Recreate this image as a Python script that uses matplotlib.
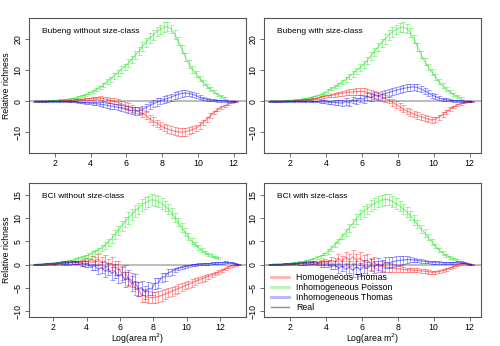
import numpy as np
import matplotlib
matplotlib.use("Agg")
import matplotlib.pyplot as plt
from matplotlib.lines import Line2D

plt.rcParams['font.family'] = ['Liberation Sans', 'DejaVu Sans']

# ---------------- data (x grid starts at 0.9, step 0.2) ----------------
x_start = 0.9
x_step = 0.2

series_names = ["Homogeneous Thomas", "Inhomogeneous Poisson", "Inhomogeneous Thomas", "Real"]
panel_titles = ["Bubeng without size-class", "Bubeng with size-class",
                "BCI without size-class", "BCI with size-class"]

# Bubeng without size-class
tl_red = [0, 0, 0, 0.0, 0.1, 0.1, 0.1, 0.2, 0.2, 0.3, 0.3, 0.4, 0.5, 0.6, 0.7, 0.8, 0.9, 1.0, 1.0, 0.8,
          0.6, 0.3, 0.0, -0.3, -0.8, -1.2, -1.7, -2.2, -2.8, -3.4, -4.0, -4.6, -5.6, -6.4, -7.1, -7.8, -8.4, -8.9, -9.3, -9.6,
          -9.8, -9.9, -9.8, -9.5, -9.1, -8.6, -7.8, -6.8, -5.7, -4.6, -3.6, -2.7, -2.0, -1.5, -0.9, -0.4, -0.1]
tl_red_err = [0.1] * 8 + [0.2] * 6 + [0.4] * 4 + [0.6, 0.7, 0.8, 0.8, 0.9, 0.9, 1.0, 1.0, 1.0, 1.1, 1.1, 1.1,
              1.2, 1.2, 1.2, 1.2, 1.2, 1.2, 1.2, 1.2, 1.2, 1.2, 1.2, 1.2, 1.2, 1.1, 1.1, 1.0, 1.0, 0.9,
              0.8, 0.7, 0.6, 0.5, 0.4, 0.3, 0.2, 0.2, 0.1]
tl_green = [0, 0.0, 0.1, 0.1, 0.2, 0.2, 0.3, 0.4, 0.5, 0.6, 0.8, 1.0, 1.3, 1.7, 2.0, 2.6, 3.1, 3.8, 4.5, 5.2,
            6.3, 7.0, 8.1, 9.0, 10.2, 11.0, 12.3, 13.4, 14.8, 16.0, 17.6, 18.8, 20.3, 21.2, 22.4, 23.0, 23.8, 23.9, 23.2, 21.5,
            19.3, 16.8, 14.2, 12.0, 10.2, 8.8, 7.3, 6.0, 4.9, 3.9, 3.0, 2.2, 1.6, 1.1]
tl_green_err = [0.1] * 6 + [0.2] * 6 + [0.3] * 4 + [0.5] * 4 + [0.7, 0.8, 0.9, 1.0, 1.0, 1.1, 1.2, 1.2, 1.3, 1.3,
                1.4, 1.4, 1.5, 1.5, 1.5, 1.5, 1.5, 1.5, 1.4, 1.4, 1.3, 1.3, 1.2, 1.2, 1.1, 1.0, 0.9, 0.8, 0.7, 0.6,
                0.5, 0.4, 0.4, 0.3]
tl_blue = [0, 0, 0, 0, 0, 0, 0, 0, -0.1, -0.1, -0.2, -0.2, -0.3, -0.4, -0.5, -0.6, -0.7, -0.8, -0.9, -1.1,
           -1.3, -1.5, -1.7, -1.9, -2.2, -2.5, -2.7, -3.0, -3.1, -3.0, -2.6, -2.0, -1.4, -0.8, -0.3, 0.1, 0.5, 0.9, 1.3, 1.8,
           2.2, 2.5, 2.6, 2.5, 2.2, 1.8, 1.3, 0.9, 0.6, 0.4, 0.3, 0.2, 0.1, 0.1, 0.0, 0.0, 0.0]
tl_blue_err = [0.1] * 8 + [0.2] * 6 + [0.4] * 4 + [0.6, 0.7, 0.8, 0.9, 0.9, 1.0, 1.0, 1.1, 1.1, 1.1, 1.2, 1.2,
               1.2, 1.2, 1.2, 1.2, 1.2, 1.1, 1.1, 1.1, 1.1, 1.1, 1.0, 1.0, 1.0, 0.9, 0.9, 0.8, 0.7, 0.6,
               0.5, 0.4, 0.3, 0.3, 0.2, 0.2, 0.1, 0.1, 0.1]

# Bubeng with size-class
tr_red = [0, 0, 0, 0, 0.1, 0.1, 0.1, 0.2, 0.3, 0.4, 0.5, 0.6, 0.8, 1.0, 1.2, 1.5, 1.7, 1.9, 2.1, 2.4,
          2.6, 2.8, 2.9, 3.0, 3.1, 3.2, 3.1, 2.9, 2.6, 2.2, 1.8, 1.3, 0.9, 0.4, -0.3, -1.0, -1.7, -2.4, -3.1, -3.6,
          -4.1, -4.6, -5.0, -5.3, -5.7, -6.0, -5.8, -5.1, -4.3, -3.4, -2.5, -1.8, -1.2, -0.8, -0.5, -0.2, -0.1]
tr_red_err = [0.1] * 8 + [0.2] * 6 + [0.4] * 4 + [0.6, 0.7, 0.8, 0.9, 1.0, 1.0, 1.1, 1.1, 1.1, 1.1, 1.1, 1.1,
              1.1, 1.1, 1.1, 1.1, 1.1, 1.1, 1.1, 1.1, 1.0, 1.0, 1.0, 1.0, 1.0, 0.9, 0.9, 0.9, 0.8, 0.8,
              0.7, 0.6, 0.5, 0.4, 0.3, 0.3, 0.2, 0.1, 0.1]
tr_green = [0, 0, 0.1, 0.1, 0.2, 0.2, 0.3, 0.4, 0.5, 0.7, 0.9, 1.1, 1.4, 1.7, 2.1, 2.7, 3.3, 4.0, 4.6, 5.4,
            6.2, 7.0, 7.9, 8.8, 9.8, 10.7, 11.8, 13.0, 14.5, 15.9, 17.4, 18.7, 20.0, 21.2, 22.2, 23.0, 23.6, 23.8, 23.3, 22.0,
            20.0, 17.5, 15.0, 12.8, 11.0, 9.4, 7.8, 6.3, 5.0, 3.9, 3.0, 2.2, 1.6, 1.1]
tr_green_err = [0.1] * 6 + [0.2] * 6 + [0.3] * 4 + [0.5] * 4 + [0.7, 0.8, 0.9, 1.0, 1.0, 1.1, 1.2, 1.2, 1.3, 1.3,
                1.4, 1.4, 1.5, 1.5, 1.5, 1.5, 1.5, 1.5, 1.4, 1.4, 1.3, 1.3, 1.2, 1.2, 1.1, 1.0, 0.9, 0.8, 0.7, 0.6,
                0.5, 0.4, 0.4, 0.3]
tr_blue = [0, 0, 0, 0, 0, 0, 0, 0, 0, 0, 0, 0, -0.1, -0.1, -0.2, -0.2, -0.3, -0.4, -0.4, -0.5,
           -0.6, -0.1, -0.5, 0.4, 0.1, 1.0, 0.6, 1.5, 1.1, 1.9, 1.6, 2.1, 2.5, 2.8, 3.2, 3.5, 3.8, 4.1, 4.3, 4.5,
           4.6, 4.4, 3.9, 3.3, 2.7, 2.0, 1.5, 1.0, 0.7, 0.5, 0.3, 0.2, 0.1, 0.1, 0, 0, 0]
tr_blue_err = [0.1] * 8 + [0.2] * 6 + [0.5] * 4 + [0.7, 0.8, 0.9, 1.0, 1.0, 1.1, 1.1, 1.1, 1.1, 1.1, 1.1, 1.1,
               1.1, 1.1, 1.1, 1.1, 1.1, 1.1, 1.1, 1.1, 1.1, 1.1, 1.0, 1.0, 1.0, 0.9, 0.9, 0.8, 0.7, 0.6,
               0.5, 0.4, 0.3, 0.3, 0.2, 0.2, 0.1, 0.1, 0.1]

# BCI without size-class
bl_red = [0, 0, 0, 0.0, 0.1, 0.1, 0.1, 0.2, 0.2, 0.3, 0.3, 0.4, 0.4, 0.5, 0.4, 0.9, 0.6, 1.2, 0.8, 1.2,
          0.5, 0.8, 0.0, 0.3, -0.7, -0.6, -1.8, -1.6, -3.0, -3.3, -5.0, -5.2, -6.5, -6.7, -7.0, -7.1, -7.0, -6.8, -6.6, -6.3,
          -6.0, -5.7, -5.4, -5.1, -4.8, -4.5, -4.2, -3.9, -3.6, -3.3, -3.0, -2.8, -2.5, -2.2, -1.9, -1.6, -1.3, -0.9, -0.5, -0.2,
          -0.1, 0.0]
bl_red_err = [0.1] * 8 + [0.3] * 6 + [0.6] * 4 + [0.9, 1.0, 1.1, 1.2, 1.3, 1.4, 1.4, 1.5, 1.5, 1.5, 1.5, 1.5,
              1.5, 1.4, 1.4, 1.3, 1.3, 1.2, 1.2, 1.1, 1.1, 1.0, 1.0, 1.0, 0.9, 0.9, 0.9, 0.8, 0.8, 0.8,
              0.7, 0.7, 0.6, 0.6, 0.5, 0.5, 0.4, 0.4, 0.3, 0.3, 0.2, 0.2, 0.1, 0.1]
bl_green = [0, 0.0, 0.1, 0.1, 0.2, 0.3, 0.3, 0.4, 0.5, 0.6, 0.8, 0.9, 1.1, 1.3, 1.5, 1.8, 2.0, 2.4, 2.7, 3.1,
            3.6, 4.1, 4.8, 5.6, 6.4, 7.3, 8.3, 9.1, 10.0, 10.7, 11.5, 12.1, 12.8, 13.2, 13.6, 13.9, 13.8, 13.5, 13.1, 12.5,
            11.9, 11.1, 10.1, 9.1, 8.0, 7.0, 6.0, 5.1, 4.4, 3.7, 3.1, 2.6, 2.2, 1.9, 1.6, 1.4]
bl_green_err = [0.1] * 6 + [0.2] * 6 + [0.3] * 4 + [0.5] * 4 + [0.6, 0.7, 0.8, 0.9, 1.0, 1.0, 1.1, 1.1, 1.2, 1.2,
                1.2, 1.2, 1.2, 1.2, 1.2, 1.2, 1.2, 1.2, 1.1, 1.1, 1.1, 1.0, 1.0, 0.9, 0.9, 0.8, 0.7, 0.6, 0.5, 0.5,
                0.4, 0.4, 0.3, 0.3, 0.2, 0.2]
bl_blue = [0, 0.1, 0.1, 0.2, 0.2, 0.3, 0.3, 0.4, 0.4, 0.5, 0.5, 0.5, 0.5, 0.4, 0.3, 0.1, 0.2, -0.5, -0.2, -1.0,
           -0.6, -1.4, -0.9, -1.9, -1.4, -2.5, -2.0, -3.2, -2.8, -4.1, -3.6, -5.2, -4.9, -5.9, -5.1, -5.2, -4.0, -3.9, -2.7, -2.6,
           -1.7, -1.5, -1.1, -0.8, -0.6, -0.4, -0.3, -0.1, 0.0, 0.1, 0.1, 0.2, 0.2, 0.3, 0.3, 0.4, 0.4, 0.5, 0.5, 0.4,
           0.2, 0.0]
bl_blue_err = [0.1] * 8 + [0.3] * 6 + [0.6] * 4 + [0.9, 1.0, 1.1, 1.2, 1.3, 1.4, 1.5, 1.5, 1.6, 1.6, 1.6, 1.6,
               1.6, 1.5, 1.5, 1.4, 1.3, 1.2, 1.1, 1.0, 0.9, 0.8, 0.7, 0.6, 0.5, 0.4, 0.3, 0.3, 0.2, 0.2,
               0.2, 0.2, 0.2, 0.2, 0.2, 0.2, 0.2, 0.2, 0.2, 0.2, 0.1, 0.1, 0.1, 0.1]

# BCI with size-class
br_red = [0, 0, 0, 0, 0.1, 0.1, 0.1, 0.2, 0.2, 0.2, 0.3, 0.3, 0.4, 0.4, 0.5, 0.6, 0.5, 1.0, 0.6, 1.3,
          0.8, 1.6, 1.0, 1.7, 1.0, 1.4, 0.6, 1.0, 0.2, 0.5, -0.3, -0.3, -0.5, -0.6, -0.7, -0.8, -0.9, -1.0, -1.1, -1.1,
          -1.2, -1.2, -1.3, -1.4, -1.5, -1.6, -1.6, -1.5, -1.3, -1.0, -0.7, -0.4, -0.1, 0.2, 0.3, 0.1, 0.0]
br_red_err = [0.1] * 8 + [0.3] * 6 + [0.6] * 4 + [0.9, 1.0, 1.1, 1.2, 1.3, 1.4, 1.4, 1.4, 1.4, 1.3, 1.3, 1.2,
              1.2, 1.1, 1.0, 0.9, 0.8, 0.7, 0.6, 0.5, 0.5, 0.4, 0.4, 0.4, 0.4, 0.4, 0.4, 0.3, 0.3, 0.3,
              0.3, 0.3, 0.2, 0.2, 0.2, 0.2, 0.1, 0.1, 0.1]
br_green = [0, 0.0, 0.1, 0.1, 0.2, 0.2, 0.3, 0.4, 0.5, 0.6, 0.8, 1.0, 1.2, 1.5, 1.8, 2.3, 2.8, 3.5, 4.3, 5.1,
            6.0, 6.9, 7.9, 8.9, 9.8, 10.7, 11.4, 12.0, 12.6, 13.1, 13.5, 13.8, 14.0, 13.9, 13.6, 13.1, 12.6, 12.0, 11.3, 10.5,
            9.6, 8.7, 7.7, 6.8, 5.9, 4.9, 4.0, 3.2, 2.5, 2.0, 1.6, 1.3, 1.1]
br_green_err = [0.1] * 6 + [0.2] * 6 + [0.3] * 4 + [0.5] * 4 + [0.6, 0.7, 0.8, 0.9, 1.0, 1.0, 1.1, 1.1, 1.2, 1.2,
                1.2, 1.2, 1.2, 1.2, 1.2, 1.2, 1.1, 1.1, 1.1, 1.0, 1.0, 0.9, 0.9, 0.8, 0.7, 0.6, 0.5, 0.4, 0.4, 0.3,
                0.3, 0.2, 0.2]
br_blue = [0, 0.1, 0.1, 0.1, 0.2, 0.2, 0.2, 0.3, 0.3, 0.3, 0.4, 0.4, 0.4, 0.3, 0.2, 0.1, 0.2, -0.4, 0.0, -0.8,
           -0.3, -1.0, -0.5, -1.2, -0.5, -1.1, -0.3, -0.8, -0.1, -0.5, 0.1, -0.2, 0.4, 0.4, 0.6, 0.8, 0.9, 1.0, 1.1, 1.1,
           1.0, 0.9, 0.8, 0.7, 0.6, 0.5, 0.5, 0.4, 0.4, 0.4, 0.4, 0.4, 0.5, 0.5, 0.4, 0.2, 0.0]
br_blue_err = [0.1] * 8 + [0.3] * 6 + [0.6] * 4 + [0.9, 1.0, 1.1, 1.2, 1.3, 1.4, 1.4, 1.4, 1.4, 1.3, 1.3, 1.3,
               1.3, 1.3, 1.2, 1.2, 1.1, 1.0, 0.9, 0.8, 0.7, 0.6, 0.5, 0.4, 0.4, 0.3, 0.3, 0.3, 0.3, 0.3,
               0.2, 0.2, 0.2, 0.2, 0.2, 0.2, 0.1, 0.1, 0.1]

panel_series = [
    [(tl_red, tl_red_err), (tl_green, tl_green_err), (tl_blue, tl_blue_err)],
    [(tr_red, tr_red_err), (tr_green, tr_green_err), (tr_blue, tr_blue_err)],
    [(bl_red, bl_red_err), (bl_green, bl_green_err), (bl_blue, bl_blue_err)],
    [(br_red, br_red_err), (br_green, br_green_err), (br_blue, br_blue_err)],
]

# ---------------- styling ----------------
colors = ["#FF0000", "#00E000", "#0000FF"]
real_color = "#8c8c8c"
frame_col = "#555555"

fig = plt.figure(figsize=(5.0, 3.46), dpi=100)
W, H = 500.0, 346.0

def px_axes(l, t, r, b):
    return fig.add_axes([l / W, 1 - b / H, (r - l) / W, (b - t) / H])

axes = [
    px_axes(29, 18, 246, 153),
    px_axes(264, 18, 481, 153),
    px_axes(29, 183, 246, 317),
    px_axes(264, 183, 481, 317),
]
xlims = [(0.54, 12.7), (0.55, 12.64), (0.55, 13.56), (0.55, 12.64)]
ylims = [(-16.6, 26.7), (-16.6, 26.7), (-11.2, 17.5), (-11.2, 17.5)]
yticks = [[-10, 0, 10, 20], [-10, 0, 10, 20], [-10, -5, 0, 5, 10, 15], [-10, -5, 0, 5, 10, 15]]

for k, ax in enumerate(axes):
    ax.axhline(0, color="#b0b0b0", lw=1.2, zorder=0)
    for (vals, errs), c in zip(panel_series[k], colors):
        n = min(len(vals), len(errs))
        y = np.array(vals[:n], dtype=float)
        e = np.array(errs[:n], dtype=float)
        x = x_start + x_step * np.arange(n)
        ax.errorbar(x, y, yerr=e, fmt="none", ecolor=c, alpha=0.42, elinewidth=0.6,
                    capsize=1.8, capthick=0.6, zorder=2)
        ax.plot(x, y, color=c, alpha=0.45, lw=0.9, zorder=3)
    ax.set_xlim(*xlims[k])
    ax.set_ylim(*ylims[k])
    ax.set_xticks([2, 4, 6, 8, 10, 12])
    ax.set_yticks(yticks[k])
    ax.tick_params(axis="both", direction="out", length=3, width=0.6, color=frame_col,
                   labelsize=6.3, pad=1.5)
    for lab in ax.get_yticklabels():
        lab.set_rotation(90)
        lab.set_va("center")
    for sp in ax.spines.values():
        sp.set_color(frame_col)
        sp.set_linewidth(0.8)
    ax.text(0.06, 0.9, panel_titles[k], transform=ax.transAxes, fontsize=6,
            ha="left", va="center")

axes[0].set_ylabel("Relative richness", fontsize=6.2, labelpad=2)
axes[2].set_ylabel("Relative richness", fontsize=6.2, labelpad=2)
fig.text((29 + 246) / 2.0 / W, 1 - 338.5 / H, "Log(area m$^2$)", fontsize=6.3,
         ha="center", va="center")
fig.text((264 + 481) / 2.0 / W, 1 - 338.5 / H, "Log(area m$^2$)", fontsize=6.3,
         ha="center", va="center")

handles = [Line2D([], [], color=c, alpha=0.3, lw=2.0) for c in colors]
handles.append(Line2D([], [], color=real_color, lw=1.0))
axes[3].legend(handles, series_names, loc="lower left", bbox_to_anchor=(0.01, 0.0),
               frameon=False, fontsize=6.3, handlelength=2.0, handletextpad=0.8,
               labelspacing=0.12, borderaxespad=0.2)

fig.savefig("out.png", dpi=100)
